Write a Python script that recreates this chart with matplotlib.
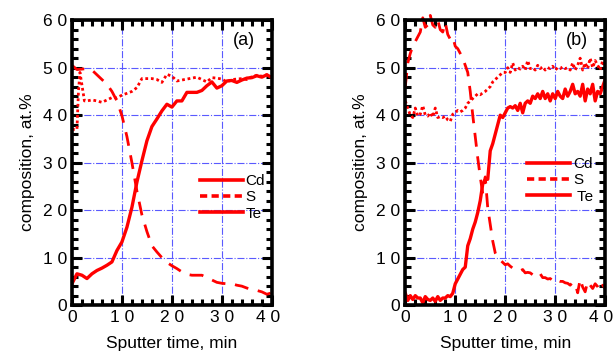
import numpy as np
import matplotlib
matplotlib.use("Agg")
from matplotlib import pyplot as plt
from matplotlib.lines import Line2D
from matplotlib.ticker import MultipleLocator, FixedLocator, FixedFormatter
import matplotlib.transforms as mtransforms

plt.rcParams['font.family'] = ['Liberation Sans', 'DejaVu Sans']

# ---- panel (a) ----
t_a = list(range(0, 41))
te_a = [4.5, 6.6, 6.3, 5.6, 6.6, 7.3, 7.8, 8.4, 9.1, 11.5, 13.3, 16.4, 20.6, 25.9, 30.4,
        34.6, 37.6, 39.2, 40.9, 42.3, 41.7, 43.0, 43.0, 44.8, 44.8, 44.8, 45.2, 46.2, 47.0,
        45.7, 46.2, 47.2, 47.3, 46.9, 47.4, 47.8, 47.9, 48.3, 48.0, 48.5, 47.9]
s_a = [50.5, 49.6, 49.7, 49.8, 49.5, 48.5, 47.5, 46.5, 45.0, 43.0, 39.9, 35.5, 30.0, 24.0,
       19.0, 15.5, 12.5, 11.2, 10.0, 9.0, 8.3, 7.7, 7.0, 6.5, 6.3, 6.3, 6.3, 5.8, 5.3, 4.8,
       4.6, 4.5, 4.5, 4.2, 4.0, 3.6, 3.3, 3.1, 2.8, 2.3, 2.6]
t_cd_a = [0, 1, 1.3, 1.6, 2.5, 3, 4, 5, 6, 7, 8, 9, 10, 11, 12, 13, 14, 15, 16, 17, 18, 19, 20,
          21, 22, 23, 24, 25, 26, 27, 28, 29, 30, 31, 32, 33, 34, 35, 36, 37, 38, 39, 40]
cd_a = [37.0, 37.0, 45.0, 49.0, 43.0, 43.0, 43.2, 43.0, 42.7, 43.2, 43.7, 43.7, 44.2, 44.6,
        45.0, 45.8, 47.7, 47.7, 47.7, 47.5, 46.9, 48.6, 48.2, 47.2, 47.4, 47.6, 47.8, 48.0,
        47.5, 47.0, 47.9, 47.8, 47.6, 47.0, 47.5, 47.6, 47.7, 47.5, 48.1, 48.4, 48.2, 48.5, 48.0]

# ---- panel (b) ----
t_b = np.arange(0, 40.5, 0.5)
s_b = [46, 51, 53, 54.5, 55.5, 56.5, 57.5, 60.5, 58.5, 59, 61, 59, 58.5, 60, 58, 57.5, 59.5,
       57, 56, 56.5, 54.5, 54, 53, 52, 50.5, 49, 45, 40, 35.5, 31, 27, 23.5, 27, 20.5, 17,
       13.5, 11, 10, 9.5, 9, 8.5, 8.7, 8.2, 7.8, 7.6, 7.4, 7.2, 7.5, 6.8, 6.9, 6.8, 6.4, 6.3,
       6.0, 6.6, 5.8, 5.8, 5.5, 5.6, 5.2, 5.6, 5.2, 5.0, 5.0, 4.7, 4.6, 4.2, 4.8, 4.5, 2.6,
       5.5, 3.8, 2.8, 5.0, 4.2, 3.5, 4.5, 3.9, 3.0, 4.2, 3.5]
cd_b = [43, 41.5, 40, 39.5, 41.5, 39.8, 40.2, 42, 40, 39.8, 40.5, 39.6, 41.5, 39.5, 39.7,
        39.5, 39.8, 39.0, 38.7, 40.2, 40.5, 41.0, 40.7, 41.0, 41.5, 42.5, 43.0, 43.5, 44.0,
        44.5, 44.3, 44.7, 45.0, 45.5, 46.0, 47.0, 47.5, 48.0, 48.5, 49.0, 49.0, 50.0, 49.0,
        51.0, 49.5, 50.0, 49.7, 50.3, 49.5, 51.5, 49.8, 50.0, 49.5, 50.5, 49.8, 50.2, 49.5,
        50.0, 49.8, 50.3, 49.5, 50.0, 49.8, 50.2, 49.8, 50.0, 49.5, 51.0, 49.5, 50.5, 52.0,
        49.5, 51.0, 49.8, 52.0, 50.0, 51.5, 50.5, 49.5, 51.5, 50.0]
te_b = [2.5, 1.0, 2.0, 1.2, 2.0, 1.5, 1.5, 0.5, 1.8, 1.2, 1.0, 1.5, 0.8, 1.8, 1.0, 1.5, 1.5,
        2.0, 1.8, 2.5, 4.5, 5.5, 6.5, 7.5, 8.0, 12.5, 14.0, 16.0, 17.5, 19.5, 22.0, 25.5, 26.5,
        26.5, 32.5, 34.0, 36.0, 38.0, 40.0, 39.5, 40.5, 41.5, 41.8, 41.5, 42.0, 41.0, 42.5,
        40.5, 42.5, 43.0, 42.5, 44.0, 43.5, 44.5, 43.5, 45.0, 43.5, 44.5, 43.0, 44.5, 43.5,
        45.0, 44.0, 43.5, 45.5, 44.0, 45.0, 46.5, 44.5, 45.0, 44.0, 46.5, 43.0, 45.5, 44.5,
        46.5, 43.0, 45.0, 44.5, 46.0, 47.5]

x_ticks = [0, 10, 20, 30, 40]
x_labels = ['0', '1 0', '2 0', '3 0', '4 0']
y_ticks = [0, 10, 20, 30, 40, 50, 60]
y_labels = ['0', '1 0', '2 0', '3 0', '4 0', '5 0', '6 0']

red = '#ff0000'
grid_col = '#5a5aff'

fig = plt.figure(figsize=(6.15, 3.54), dpi=100)
ax_a = fig.add_axes([0.117, 0.138, 0.325, 0.805])
ax_b = fig.add_axes([0.659, 0.138, 0.325, 0.805])


def style(ax, tag, leg_pos, labels):
    ax.set_xlim(0, 40)
    ax.set_ylim(0, 60)
    ax.xaxis.set_major_locator(FixedLocator(x_ticks))
    ax.xaxis.set_major_formatter(FixedFormatter(x_labels))
    ax.yaxis.set_major_locator(FixedLocator(y_ticks))
    ax.yaxis.set_major_formatter(FixedFormatter(y_labels))
    ax.xaxis.set_minor_locator(MultipleLocator(2))
    ax.yaxis.set_minor_locator(MultipleLocator(2))
    ax.tick_params(which='both', direction='in', top=True, right=True, labelsize=12.5)
    ax.tick_params(which='major', length=7, width=2.2)
    ax.tick_params(which='minor', length=4, width=2.2)
    for sp in ax.spines.values():
        sp.set_linewidth(2.6)
    ax.grid(True, which='major', color=grid_col, linestyle='-.', linewidth=0.8)
    ax.set_axisbelow(True)
    ax.set_xlabel('Sputter time, min', fontsize=12.5, labelpad=8)
    ax.set_ylabel('composition, at.%', fontsize=12.5, labelpad=6)
    ax.text(0.86, 0.93, tag, transform=ax.transAxes, fontsize=13, ha='center', va='center')
    handles = [Line2D([], [], color=red, lw=2.6, ls='-'),
               Line2D([], [], color=red, lw=2.6, ls=(0, (2, 1.2))),
               Line2D([], [], color=red, lw=2.6, ls='-')]
    ax.legend(handles, labels, loc='upper left', bbox_to_anchor=leg_pos,
              frameon=False, fontsize=11, handlelength=2.8, handletextpad=0.2,
              labelspacing=0.15, borderpad=0, borderaxespad=0)
    # last x label sits a little left of its tick in the original
    shift = mtransforms.ScaledTranslation(-4 / 100, 0, fig.dpi_scale_trans)
    last = ax.get_xticklabels()[-1]
    last.set_transform(last.get_transform() + shift)


ax_a.plot(t_cd_a, cd_a, color=red, lw=2, ls=(0, (1, 1)))
ax_a.plot(t_a, s_a, color=red, lw=2, ls=(0, (5, 3.5)))
ax_a.plot(t_a, te_a, color=red, lw=2.4, ls='-')
style(ax_a, '(a)', (0.64, 0.46), ['Cd', 'S', 'Te'])

ax_b.plot(t_b, cd_b, color=red, lw=2, ls=(0, (1, 1)), clip_on=False)
ax_b.plot(t_b, s_b, color=red, lw=2, ls=(0, (5, 3.5)), clip_on=False)
ax_b.plot(t_b, te_b, color=red, lw=2.4, ls='-')
style(ax_b, '(b)', (0.61, 0.52), ['Cd', 'S', ' Te'])

fig.savefig('out.png', dpi=100)
